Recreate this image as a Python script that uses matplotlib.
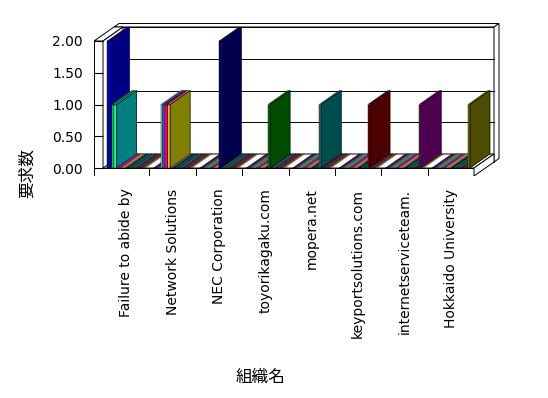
import matplotlib.pyplot as plt
from matplotlib.patches import Polygon
from matplotlib.colors import to_rgb
import numpy as np

# organisations (categories)
categories = ["Failure to abide by", "Network Solutions", "NEC Corporation",
              "toyorikagaku.com", "mopera.net", "keyportsolutions.com",
              "internetserviceteam.", "Hokkaido University"]

# one colour per series (16 series in each cluster)
series_colors = ["#0000FF", "#FF0000", "#00FF00", "#00FFFF",
                 "#FF00FF", "#FF0080", "#FFFF00", "#808080",
                 "#000080", "#008000", "#004080", "#008080",
                 "#800000", "#404040", "#800080", "#808000"]

# request counts, rows = organisations, columns = series
values = np.array([
    [2, 0, 1, 1, 0, 0, 0, 0, 0, 0, 0, 0, 0, 0, 0, 0],
    [0, 0, 0, 1, 1, 1, 1, 0, 0, 0, 0, 0, 0, 0, 0, 0],
    [0, 0, 0, 0, 0, 0, 0, 0, 2, 0, 0, 0, 0, 0, 0, 0],
    [0, 0, 0, 0, 0, 0, 0, 0, 0, 1, 0, 0, 0, 0, 0, 0],
    [0, 0, 0, 0, 0, 0, 0, 0, 0, 0, 0, 1, 0, 0, 0, 0],
    [0, 0, 0, 0, 0, 0, 0, 0, 0, 0, 0, 0, 1, 0, 0, 0],
    [0, 0, 0, 0, 0, 0, 0, 0, 0, 0, 0, 0, 0, 0, 1, 0],
    [0, 0, 0, 0, 0, 0, 0, 0, 0, 0, 0, 0, 0, 0, 0, 1],
])

yticks = [0, 0.5, 1.0, 1.5, 2.0]

# pixel scale of the 3d box
PXC = 46.375   # px per category
PXV = 63.5     # px per 1.0
DX = 20 / PXC  # depth offset (x)
DY = 14 / PXV  # depth offset (y)
WT = 9 / PXC   # side wall thickness
FT = 8 / PXV   # floor thickness
BT = 0.25      # back wall thickness (depth units)
YMAX = 2.0
n_cat = len(categories)
n_ser = len(series_colors)
gap = 4.0 / PXC
bw = (1 - 2 * gap) / n_ser

fig = plt.figure(figsize=(5.48, 3.98), dpi=100)
fig.patch.set_facecolor("white")
ax = fig.add_axes([94 / 548, 222 / 398, 454 / 548, 176 / 398])
ax.set_xlim(-9 / PXC, 445 / PXC)
ax.set_ylim(-8 / PXV, 168 / PXV)
ax.patch.set_visible(False)
for s in ax.spines.values():
    s.set_visible(False)


def P(x, y, z):
    return (x + z * DX, y + z * DY)


def face(pts, fc, z, lw=0.7):
    ax.add_patch(Polygon(pts, closed=True, fc=fc, ec="black", lw=lw, zorder=z))


def box(x0, x1, y0, y1, z0, z1, fc, zo):
    face([P(x0, y0, z0), P(x1, y0, z0), P(x1, y1, z0), P(x0, y1, z0)], fc, zo)
    face([P(x0, y1, z0), P(x1, y1, z0), P(x1, y1, z1), P(x0, y1, z1)], fc, zo)
    face([P(x1, y0, z0), P(x1, y0, z1), P(x1, y1, z1), P(x1, y1, z0)], fc, zo)


# back wall, gridlines, floor, side wall
box(-WT, n_cat, -FT, YMAX, 1, 1 + BT, "white", 0.5)
for g in yticks[1:-1]:
    (xa, ya), (xb, yb) = P(0, g, 1), P(n_cat, g, 1)
    ax.plot([xa, xb], [ya, yb], color="black", lw=0.7, zorder=0.55)
box(-WT, n_cat, -FT, 0, 0, 1, "white", 0.6)
for i in range(1, n_cat):
    ax.plot([i, i], [-FT, 0], color="black", lw=0.7, zorder=0.65)
box(-WT, 0, 0, YMAX, 0, 1, "white", 0.7)

# bars, painted left to right
zo = 3
for i in range(n_cat):
    for s in range(n_ser):
        v = values[i, s]
        c = np.array(to_rgb(series_colors[s]))
        dark = c.max() <= 0.55
        x0 = i + gap + s * bw
        x1 = x0 + bw
        ax.bar(x0, v, width=bw, align="edge", color=c, edgecolor="black",
               linewidth=0.3, zorder=zo)
        top = c * (0.85 if dark else 0.75)
        face([P(x0, v, 0), P(x1, v, 0), P(x1, v, 1), P(x0, v, 1)], top, zo + 0.1, lw=0.15)
        if v > 0:
            side = c * (0.6 if dark else 0.5)
            face([P(x1, 0, 0), P(x1, 0, 1), P(x1, v, 1), P(x1, v, 0)], side, zo + 0.1, lw=0.5)
        zo += 0.2

ax.set_yticks(yticks, [f"{t:.2f}" for t in yticks])
ax.tick_params(axis="y", direction="in", length=6.5, width=0.8, pad=8, labelsize=10)
ax.set_xticks(np.arange(n_cat) + 0.5, categories, rotation=90)
ax.tick_params(axis="x", length=0, pad=9, labelsize=10)

fig.text(27 / 548, 1 - 173 / 398, "要求数", rotation=90, ha="center", va="center",
         fontsize=12, family=["Noto Sans CJK JP", "DejaVu Sans"])
fig.text(261 / 548, 1 - 377 / 398, "組織名", ha="center", va="center",
         fontsize=12, family=["Noto Sans CJK JP", "DejaVu Sans"])

plt.savefig("out.png", dpi=100)
